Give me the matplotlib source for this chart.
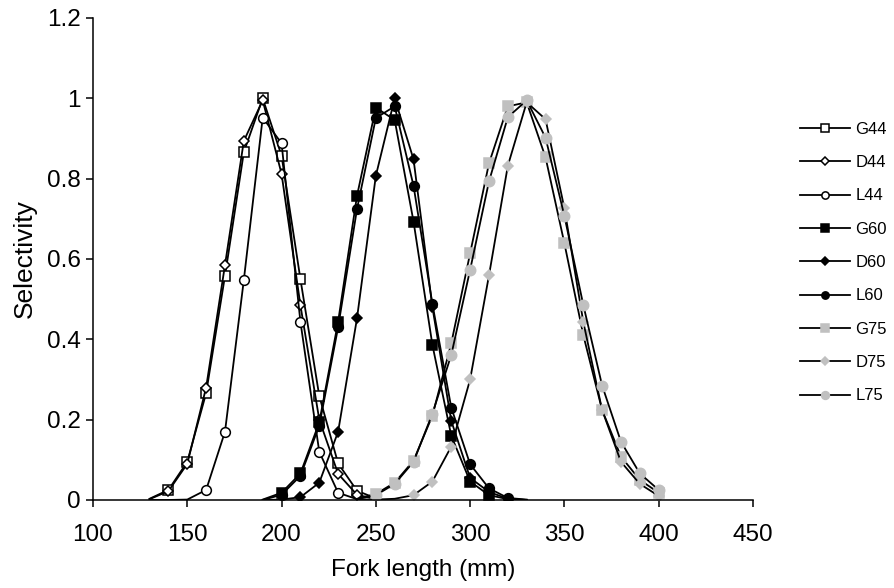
import matplotlib
matplotlib.use("Agg")
import matplotlib.pyplot as plt
import numpy as np

plt.rcParams['font.family'] = ['Liberation Sans', 'DejaVu Sans']

# Fork length (mm)
x44 = [130, 140, 150, 160, 170, 180, 190, 200, 210, 220, 230, 240, 250]
x60 = [190, 200, 210, 220, 230, 240, 250, 260, 270, 280, 290, 300, 310, 320, 330]
x75 = [240, 250, 260, 270, 280, 290, 300, 310, 320, 330, 340, 350, 360, 370, 380, 390, 400]

G44 = [0.003, 0.025, 0.095, 0.266, 0.558, 0.866, 1.0, 0.857, 0.55, 0.259, 0.091, 0.023, 0.004]
D44 = [0.002, 0.022, 0.09, 0.28, 0.585, 0.894, 0.995, 0.812, 0.485, 0.20, 0.065, 0.013, 0.002]
L44 = [0.0, 0.0, 0.001, 0.025, 0.17, 0.548, 0.952, 0.888, 0.444, 0.12, 0.018, 0.002, 0.0]

G60 = [0.001, 0.018, 0.066, 0.193, 0.444, 0.757, 0.977, 0.946, 0.693, 0.386, 0.16, 0.046, 0.012, 0.002, 0.0]
D60 = [0.0, 0.001, 0.007, 0.043, 0.17, 0.452, 0.807, 1.0, 0.848, 0.48, 0.197, 0.055, 0.02, 0.003, 0.0]
L60 = [0.0, 0.013, 0.06, 0.185, 0.43, 0.724, 0.951, 0.98, 0.782, 0.488, 0.23, 0.089, 0.029, 0.005, 0.001]

G75 = [0.003, 0.015, 0.043, 0.098, 0.21, 0.39, 0.614, 0.838, 0.98, 0.99, 0.853, 0.639, 0.411, 0.224, 0.108, 0.05, 0.018]
D75 = [0.0, 0.001, 0.003, 0.012, 0.046, 0.133, 0.30, 0.559, 0.832, 0.99, 0.948, 0.726, 0.444, 0.224, 0.095, 0.04, 0.01]
L75 = [0.002, 0.012, 0.04, 0.095, 0.215, 0.361, 0.573, 0.793, 0.953, 0.995, 0.902, 0.707, 0.486, 0.285, 0.145, 0.066, 0.025]

labels = ["G44", "D44", "L44", "G60", "D60", "L60", "G75", "D75", "L75"]
xticks = [100, 150, 200, 250, 300, 350, 400, 450]
yticks = [0, 0.2, 0.4, 0.6, 0.8, 1.0, 1.2]
yticklabels = ["0", "0.2", "0.4", "0.6", "0.8", "1", "1.2"]

GRAY = "#C0C0C0"
series = [
    (x44, G44, 's', 'white', 'black', 7),
    (x44, D44, 'D', 'white', 'black', 5),
    (x44, L44, 'o', 'white', 'black', 7),
    (x60, G60, 's', 'black', 'black', 7),
    (x60, D60, 'D', 'black', 'black', 5.5),
    (x60, L60, 'o', 'black', 'black', 7),
    (x75, G75, 's', GRAY, GRAY, 7.5),
    (x75, D75, 'D', GRAY, GRAY, 5.5),
    (x75, L75, 'o', GRAY, GRAY, 7.5),
]

fig = plt.figure(figsize=(8.95, 5.88), dpi=100)
ax = fig.add_axes([0.1039, 0.1497, 0.7374, 0.8197])

for (xs, ys, mk, fc, ec, ms), lab in zip(series, labels):
    ys = np.asarray(ys)
    mask = list(ys >= 0.005)
    ax.plot(xs, ys, color='black', lw=1.3, marker=mk, markerfacecolor=fc,
            markeredgecolor=ec, markersize=ms, markeredgewidth=1.1,
            markevery=mask, label=lab)

ax.set_xlim(100, 450)
ax.set_ylim(0, 1.2)
ax.set_xticks(xticks)
ax.set_yticks(yticks)
ax.set_yticklabels(yticklabels)
ax.tick_params(axis='both', direction='out', length=5, width=1.1, labelsize=17.5)
ax.tick_params(axis='x', pad=12)
ax.tick_params(axis='y', pad=4)
for s in ['top', 'right']:
    ax.spines[s].set_visible(False)
for s in ['left', 'bottom']:
    ax.spines[s].set_linewidth(1.1)
ax.set_xlabel("Fork length (mm)", fontsize=17.5, labelpad=9.5)
ax.set_ylabel("Selectivity", fontsize=19, labelpad=7)

leg = fig.legend(loc='upper left', bbox_to_anchor=(0.894, 0.793), frameon=False,
                 fontsize=12, handlelength=3.0, handletextpad=0.3,
                 labelspacing=1.1, borderpad=0, borderaxespad=0, markerscale=0.75)

fig.savefig("out.png", dpi=100)
